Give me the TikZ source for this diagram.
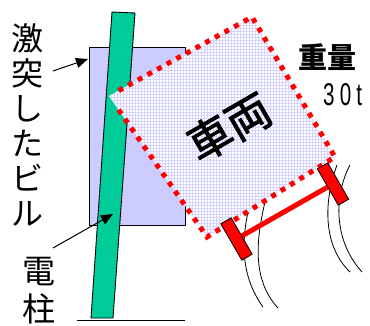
\documentclass[tikz,border=0pt]{standalone}
\usepackage{graphicx}
\usepackage{fontspec}
\newfontfamily\cjk{Noto Sans CJK JP}
\newfontfamily\cjkheavy[FakeBold=2]{Noto Sans CJK JP}
\newfontfamily\latin{Liberation Sans}
\usetikzlibrary{arrows.meta,patterns,calc}
\definecolor{bldg}{RGB}{204,204,255}
\definecolor{polegreen}{RGB}{0,204,153}
\definecolor{gridblue}{RGB}{212,212,255}

\begin{document}
\begin{tikzpicture}[x=1pt,y=-1pt,
  outline/.style={draw=black,line width=0.9pt},
  callout/.style={draw=black,line width=1pt,-{Triangle[length=12pt,width=10pt]}},
  rut/.style={draw=black,line width=0.8pt},
  tire/.style={draw=black,fill=red,line width=0.8pt,minimum width=12pt,
    minimum height=42pt,inner sep=0pt,rotate=30},
  vlabel/.style={align=center,inner sep=0pt}
]
\useasboundingbox (0,0) rectangle (370,325);

% building that was hit
\draw[outline,fill=bldg] (89,47) rectangle (185,225);
% leaning utility pole and the ground line
\draw[outline,fill=polegreen] (112,12) -- (135,13) -- (113,318) -- (91,318) -- cycle;
\draw[line width=0.9pt] (77,320) -- (185,320);

% tyre tracks under the wheels
\draw[rut] (248,212) .. controls (242,240) and (240,275) .. (263,307);
\draw[rut] (265,202) .. controls (256,240) and (252,280) .. (278,308);
\draw[rut] (337,165) .. controls (324,200) and (322,245) .. (350,272);
\draw[rut] (350,165) .. controls (334,195) and (333,240) .. (362,272);

% tilted vehicle body
\coordinate (vl) at (109,96);
\coordinate (vt) at (252,17);
\coordinate (vr) at (335,157);
\coordinate (vb) at (207,237);
\fill[white] (vl) -- (vt) -- (vr) -- (vb) -- cycle;
\fill[pattern=grid,pattern color=gridblue] (vl) -- (vt) -- (vr) -- (vb) -- cycle;
\draw[red,line width=5pt,dash pattern=on 5pt off 6pt]
  ($(vl)!11pt!(vt)$) -- (vt) -- (vr) -- (vb) -- ($(vl)!11pt!(vb)$);
\node[font=\cjkheavy\fontsize{44}{44}\selectfont,rotate=30,inner sep=0pt] (car) at (229,127) {車両};

% axle and wheels
\coordinate (wl) at (236.5,239);
\coordinate (wr) at (333,184);
\draw[red,line width=5pt] (wl) -- (wr);
\node[tire] (wheelL) at (wl) {};
\node[tire] (wheelR) at (wr) {};

% weight label
\node[font=\cjk\bfseries\fontsize{29}{29}\selectfont,inner sep=0pt] (wlabel) at (327,57) {重量};
\node[font=\latin,anchor=base west,inner sep=0pt] (tons) at (323,105)
  {\resizebox{39pt}{22pt}{3\hspace{2.5pt}0\hspace{2.5pt}t}};

% vertical labels with callout arrows
\node[vlabel,font=\cjk\fontsize{32}{35}\selectfont] (bldglabel) at (27,125) {激\\突\\し\\た\\ビ\\ル};
\node[vlabel,font=\cjk\fontsize{33}{38}\selectfont] (polelabel) at (39,291) {電\\柱};
\coordinate (bldgfrom) at (53,71);
\coordinate (bldgto) at (88,59);
\coordinate (polefrom) at (53,248);
\coordinate (poleto) at (113,214);
\draw[callout] (bldgfrom) -- (bldgto);
\draw[callout] (polefrom) -- (poleto);
\end{tikzpicture}
\end{document}
